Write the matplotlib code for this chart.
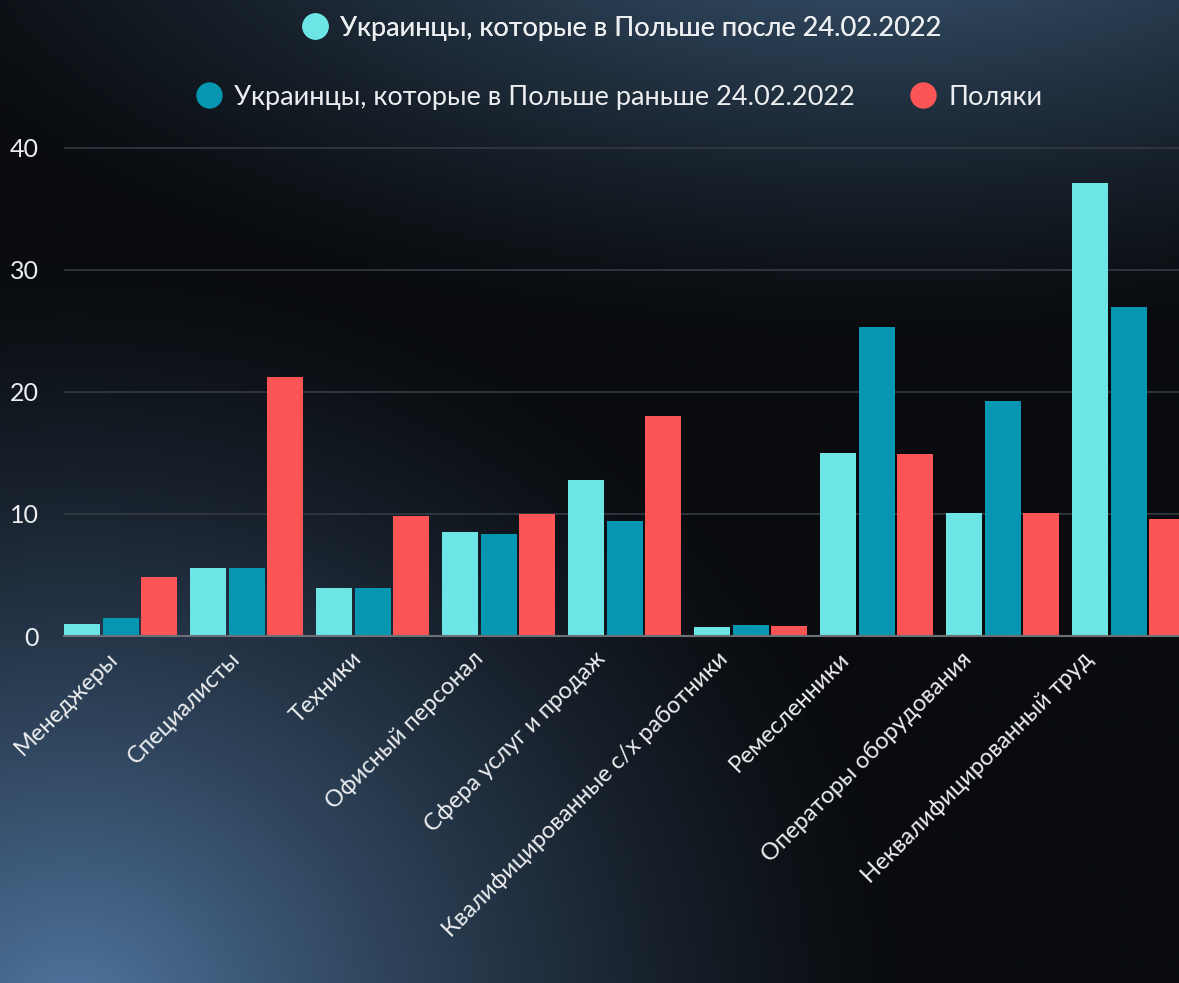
import numpy as np
import matplotlib.pyplot as plt
from matplotlib.lines import Line2D

plt.rcParams['font.family'] = ['Lato', 'DejaVu Sans']

categories = ["Менеджеры", "Специалисты", "Техники", "Офисный персонал",
              "Сфера услуг и продаж", "Квалифицированные с/х работники",
              "Ремесленники", "Операторы оборудования", "Неквалифицированный труд"]
ua_after = [1.0, 5.6, 3.9, 8.5, 12.8, 0.7, 15.0, 10.1, 37.1]
ua_before = [1.5, 5.6, 3.9, 8.4, 9.4, 0.9, 25.3, 19.3, 27.0]
poles = [4.8, 21.2, 9.8, 10.0, 18.0, 0.8, 14.9, 10.1, 9.6]
labels = ["Украинцы, которые в Польше после 24.02.2022",
          "Украинцы, которые в Польше раньше 24.02.2022",
          "Поляки"]
colors = ["#6de5e6", "#0597b1", "#fd5556"]
txt = "#eceef0"

fig = plt.figure(figsize=(11.79, 9.83), dpi=100)

# background: dark with a blue glow at the top and bottom-left
bg = fig.add_axes([0, 0, 1, 1], zorder=-10)
bg.axis("off")
h, w = 400, 480
yy, xx = np.mgrid[0:h, 0:w]
xx = xx / w
yy = yy / h * (983 / 1179)
base = np.array([9, 11, 14]) / 255.0
img = np.ones((h, w, 3)) * base
d1 = np.sqrt((xx - 0.06) ** 2 + ((yy - 0.86) * 1.1) ** 2)
g1 = np.clip(1 - d1 / 0.72, 0, 1) ** 1.35
d2 = np.sqrt(((xx - 0.75) * 0.6) ** 2 + ((yy + 0.1) * 1.4) ** 2)
g2 = np.clip(1 - d2 / 0.55, 0, 1) ** 1.3
c1 = np.array([80, 118, 160]) / 255.0
c2 = np.array([64, 96, 128]) / 255.0
img = img + g1[..., None] * (c1 - base) + g2[..., None] * (c2 - base)
bg.imshow(np.clip(img, 0, 1), aspect="auto", extent=[0, 1, 0, 1])
bg.set_xlim(0, 1)
bg.set_ylim(0, 1)

ax = fig.add_axes([64 / 1179, 0.3530, 1 - 64 / 1179, 0.5213])
ax.set_facecolor("none")

x = np.arange(len(categories))
step = 0.3056
bw = 0.286
for i, (vals, c) in enumerate(zip([ua_after, ua_before, poles], colors)):
    ax.bar(x + (i - 1) * step, vals, width=bw, color=c, zorder=3)

ax.set_xlim(-0.449, 8.40)
ax.set_ylim(0, 42)
ax.set_yticks([0, 10, 20, 30, 40])
ax.grid(axis="y", color="#343a42", linewidth=1.2, zorder=0)
for s in ["top", "right", "left"]:
    ax.spines[s].set_visible(False)
ax.spines["bottom"].set_color("#6c7177")
ax.spines["bottom"].set_linewidth(1.5)
ax.spines["bottom"].set_zorder(4)

# category labels sit slightly tighter than the bar groups
ax.set_xticks(x * 0.9675 - 0.048)
ax.set_xticklabels(categories, rotation=45, ha="right", va="center",
                   rotation_mode="anchor", fontsize=17, color=txt)
ax.tick_params(axis="x", length=0, pad=14)
ax.tick_params(axis="y", length=0, pad=18, labelsize=18, labelcolor=txt)

handles = [Line2D([], [], marker="o", linestyle="", markersize=19,
                  markerfacecolor=c, markeredgewidth=0) for c in colors]
leg1 = fig.legend(handles[:1], labels[:1], loc="center", bbox_to_anchor=(0.527, 0.9715),
                  frameon=False, fontsize=19.5, labelcolor=txt,
                  handlelength=1.0, handletextpad=0.45)
leg2 = fig.legend(handles[1:], labels[1:], loc="center", bbox_to_anchor=(0.525, 0.901),
                  frameon=False, fontsize=19.5, labelcolor=txt, ncol=2,
                  handlelength=1.0, handletextpad=0.45, columnspacing=2.0)
fig.add_artist(leg1)

fig.savefig("out.png", dpi=100)
